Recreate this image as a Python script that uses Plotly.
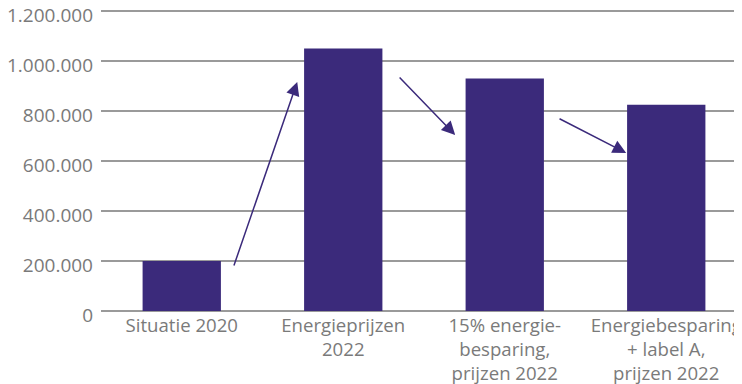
import plotly.graph_objects as go

categories = [
    "Situatie 2020",
    "Energieprijzen<br>2022",
    "15% energie-<br>besparing,<br>prijzen 2022",
    "Energiebesparing<br>+ label A,<br>prijzen 2022",
]
values = [200000, 1050000, 930000, 825000]

y_ticks = [0, 200000, 400000, 600000, 800000, 1000000, 1200000]

# arrows between bars: (tail x, tail y, tip x, tip y) in category index / value units
arrow_tail_x = [0.32, 1.34, 2.33]
arrow_tail_y = [176000, 940000, 772000]
arrow_tip_x = [0.715, 1.693, 2.752]
arrow_tip_y = [916000, 704000, 632000]

purple = "#3b2a7b"
grey_text = "#7a7a7a"
grid = "#9a9a9a"

fig = go.Figure(go.Bar(
    x=list(range(len(categories))),
    y=values,
    marker=dict(color=purple, line=dict(width=0)),
    hoverinfo="y",
))

for tx, ty, hx, hy in zip(arrow_tail_x, arrow_tail_y, arrow_tip_x, arrow_tip_y):
    fig.add_annotation(
        x=hx, y=hy, ax=tx, ay=ty,
        xref="x", yref="y", axref="x", ayref="y",
        showarrow=True, arrowhead=2, arrowsize=1.8, arrowwidth=1.5,
        arrowcolor=purple, text="",
    )

# the page body has an 8px margin, so the figure is sized and placed to compensate
fig.update_layout(
    width=742,
    height=376,
    margin=dict(l=93, r=3, t=0, b=73, autoexpand=False),
    plot_bgcolor="white",
    paper_bgcolor="white",
    separators=",.",
    bargap=0.515,
    showlegend=False,
    font=dict(family="Open Sans", size=19, color=grey_text),
    xaxis=dict(
        tickmode="array",
        tickvals=list(range(len(categories))),
        ticktext=categories,
        tickfont=dict(size=18.6),
        range=[-0.5, len(categories) - 0.5],
        showgrid=False,
        showline=False,
        zeroline=False,
        ticks="",
        automargin=False,
        ticklabelstandoff=1,
        ticklabeloverflow="allow",
    ),
    yaxis=dict(
        range=[0, 1212000],
        tickmode="array",
        tickvals=y_ticks,
        tickformat=",d",
        showgrid=True,
        gridcolor=grid,
        gridwidth=1.5,
        zeroline=True,
        zerolinecolor=grid,
        zerolinewidth=1.5,
        showline=False,
        ticks="",
        automargin=False,
        ticklabelstandoff=7,
        ticklabelshift=4,
        ticklabeloverflow="allow",
    ),
)

fig.write_html("out.html")
